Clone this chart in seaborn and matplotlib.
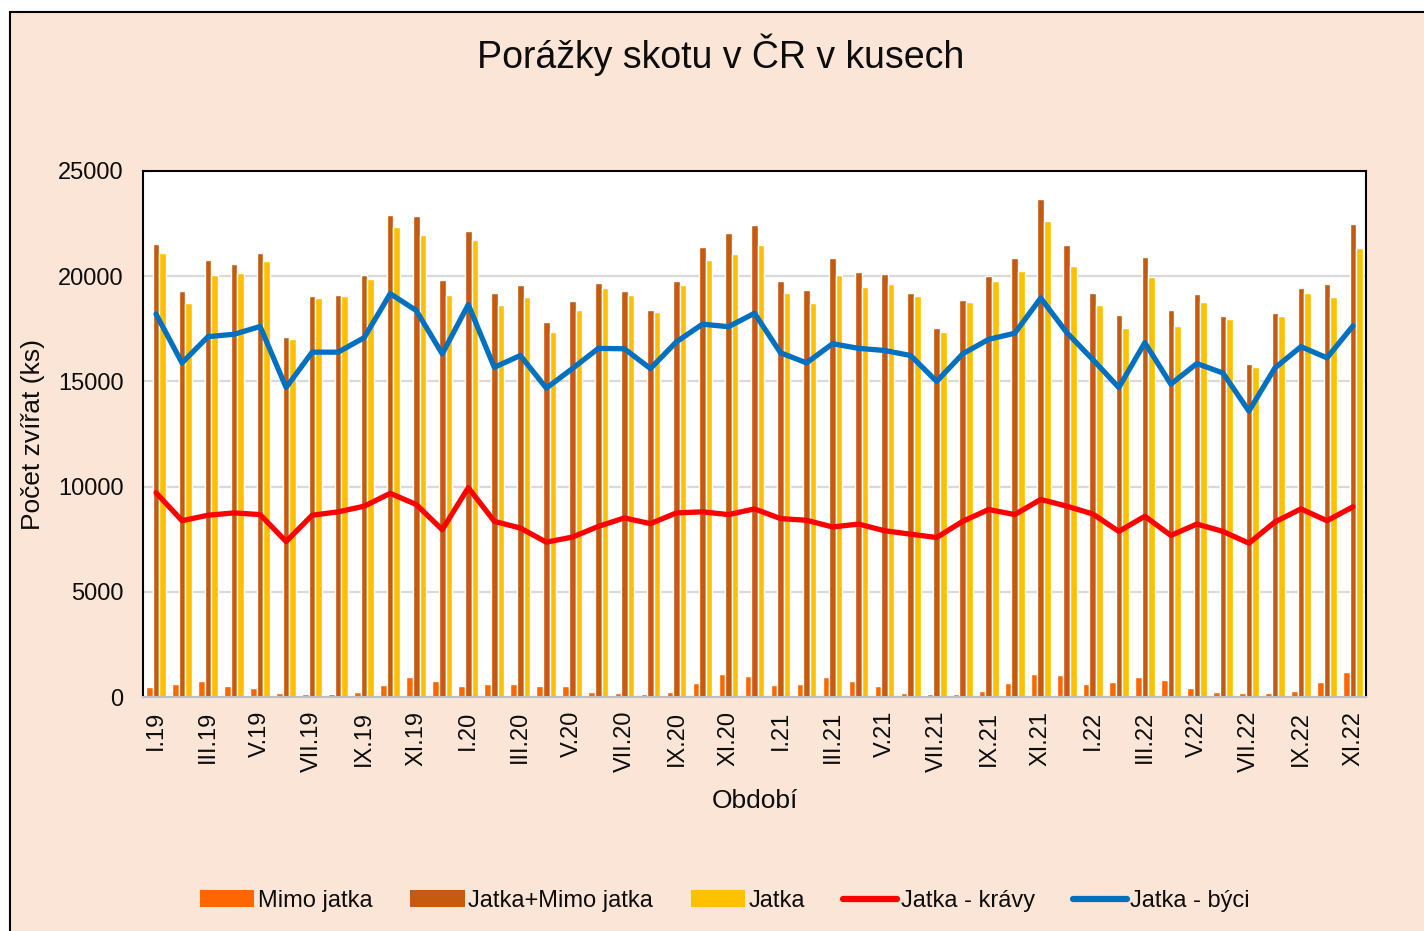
import numpy as np
import pandas as pd
import matplotlib
matplotlib.use("Agg")
import matplotlib.pyplot as plt
import matplotlib.patches as mpatches
from matplotlib.lines import Line2D
import seaborn as sns

# ---------------- data ----------------
romans = ["I", "II", "III", "IV", "V", "VI", "VII", "VIII", "IX", "X", "XI", "XII"]
periods = [f"{r}.{y}" for y in ["19", "20", "21", "22"] for r in romans][:47]

mimo_jatka = [460, 610, 740, 500, 420, 180, 160, 130, 260, 580, 950, 770,
              500, 610, 630, 530, 500, 260, 210, 140, 220, 660, 1070, 1010,
              580, 630, 930, 770, 500, 210, 160, 140, 290, 660, 1090, 1030,
              630, 710, 950, 790, 420, 220, 180, 180, 290, 690, 1190]
jatka_mimo = [21550, 19280, 20770, 20580, 21110, 17130, 19050, 19120, 20050, 22900, 22870, 19820,
              22160, 19180, 19600, 17840, 18810, 19680, 19280, 18370, 19780, 21410, 22070, 22450,
              19760, 19330, 20880, 20210, 20100, 19210, 17520, 18880, 20000, 20880, 23650, 21490,
              19210, 18170, 20900, 18400, 19150, 18120, 15830, 18240, 19460, 19650, 22500]
jatka = [21120, 18720, 20060, 20130, 20740, 17000, 18960, 19050, 19860, 22320, 21970, 19090,
         21710, 18610, 19000, 17360, 18370, 19460, 19120, 18290, 19580, 20790, 21040, 21490,
         19210, 18720, 20050, 19490, 19630, 19050, 17360, 18770, 19780, 20260, 22610, 20480,
         18640, 17530, 19980, 17610, 18780, 17950, 15690, 18130, 19210, 19010, 21360]
kravy = [9710, 8380, 8640, 8750, 8670, 7390, 8640, 8800, 9070, 9680, 9150, 7950,
         9950, 8350, 8030, 7360, 7600, 8110, 8510, 8240, 8750, 8800, 8670, 8940,
         8480, 8400, 8080, 8220, 7900, 7740, 7580, 8350, 8910, 8670, 9390, 9070,
         8700, 7870, 8590, 7680, 8220, 7870, 7310, 8320, 8940, 8380, 9040]
byci = [18200, 15880, 17130, 17240, 17610, 14710, 16390, 16390, 17080, 19170, 18370, 16310,
        18650, 15670, 16230, 14680, 15610, 16570, 16550, 15610, 16880, 17720, 17600, 18240,
        16360, 15880, 16790, 16570, 16470, 16230, 15000, 16310, 17000, 17290, 18960, 17320,
        16040, 14710, 16840, 14870, 15850, 15400, 13590, 15640, 16650, 16120, 17640]

bar_series = ["Mimo jatka", "Jatka+Mimo jatka", "Jatka"]
bar_colors = ["#FF6600", "#C55A11", "#FFC000"]
col_kravy = "#FF0000"
col_byci = "#0070C0"

# ---------------- figure ----------------
sns.set_theme(style="white")
plt.rcParams["font.family"] = ["Liberation Sans", "DejaVu Sans"]

txt = "#0d0d0d"
bg = "#FBE5D6"
fig = plt.figure(figsize=(14.24, 9.31), dpi=100)
fig.patch.set_facecolor("white")
fig.patches.append(mpatches.Rectangle((10 / 1424, -0.02), 1.05, 1 - 12 / 931 + 0.02,
                                      transform=fig.transFigure, facecolor=bg,
                                      edgecolor="black", linewidth=1.5, zorder=-10))

ax = fig.add_axes([143 / 1424, 1 - 697 / 931, (1366 - 143) / 1424, (697 - 171) / 931])
ax.set_facecolor("white")

df = pd.DataFrame({
    "period": periods * 3,
    "value": mimo_jatka + jatka_mimo + jatka,
    "series": [s for s in bar_series for _ in periods],
})
sns.barplot(data=df, x="period", y="value", hue="series", hue_order=bar_series,
            order=periods, palette=bar_colors, width=0.76, dodge=True,
            saturation=1, errorbar=None, ax=ax, legend=False, zorder=2)

xpos = np.arange(len(periods))
sns.lineplot(x=xpos, y=kravy, color=col_kravy, linewidth=3.8, ax=ax, zorder=4,
             solid_joinstyle="round", solid_capstyle="round")
sns.lineplot(x=xpos, y=byci, color=col_byci, linewidth=3.8, ax=ax, zorder=4,
             solid_joinstyle="round", solid_capstyle="round")

ax.set_xlim(-0.5, len(periods) - 0.5)
ax.set_ylim(0, 25000)
ax.set_yticks(np.arange(0, 25001, 5000))
ax.yaxis.grid(True, color="#D9D9D9", linewidth=1.6, zorder=0)
ax.set_axisbelow(True)

ax.set_xticks(xpos[::2])
ax.set_xticklabels(periods[::2], rotation=90, fontsize=17, color=txt)
ax.set_xticks(np.arange(-0.5, len(periods), 1), minor=True)
ax.tick_params(axis="x", which="major", length=0, pad=10)
ax.tick_params(axis="x", which="minor", length=6, width=1.2, color="#BFBFBF", direction="out")
ax.tick_params(axis="y", length=0, labelsize=17, labelcolor=txt, pad=14)

for s in ["top", "left", "right"]:
    ax.spines[s].set_color("black")
    ax.spines[s].set_linewidth(1.5)
ax.spines["bottom"].set_color("#BFBFBF")
ax.spines["bottom"].set_linewidth(1.5)

ax.set_xlabel("Období", fontsize=19, color=txt, labelpad=12)
ax.set_ylabel("Počet zvířat (ks)", fontsize=19, color=txt)
ax.yaxis.set_label_coords(-0.080, 0.5)

fig.text(721 / 1424, 1 - 55 / 931, "Porážky skotu v ČR v kusech", ha="center", va="center",
         fontsize=27, color=txt)

handles = [mpatches.Patch(facecolor=c, edgecolor="none") for c in bar_colors] + [
    Line2D([0], [0], color=col_kravy, linewidth=4.5, solid_capstyle="round"),
    Line2D([0], [0], color=col_byci, linewidth=4.5, solid_capstyle="round"),
]
labels = bar_series + ["Jatka - krávy", "Jatka - býci"]
fig.legend(handles, labels, loc="center", bbox_to_anchor=(725 / 1424, 1 - 901 / 931),
           ncol=5, frameon=False, fontsize=17, handlelength=2.3, handleheight=0.7,
           handletextpad=0.15, columnspacing=1.6, labelcolor=txt)

fig.savefig("out.png", dpi=100, facecolor=fig.get_facecolor())
